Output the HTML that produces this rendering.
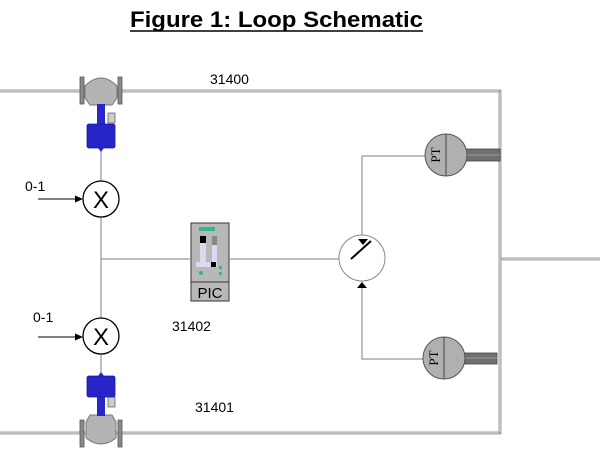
<!DOCTYPE html>
<html><head><meta charset="utf-8"><style>
html,body{margin:0;padding:0;background:#fff;}
svg{display:block;}
text{font-family:"Liberation Sans",Arial,sans-serif;}
</style></head><body>
<svg width="600" height="450" viewBox="0 0 600 450" xmlns="http://www.w3.org/2000/svg">
<text x="130" y="27" font-size="22" font-weight="bold" textLength="293" lengthAdjust="spacingAndGlyphs" fill="#000">Figure 1: Loop Schematic</text>
<line x1="130" y1="31" x2="423" y2="31" stroke="#000" stroke-width="1.5"/>

<g fill="none" stroke="#a0a0a0" stroke-width="3">
<line x1="0" y1="91" x2="501" y2="91"/>
<line x1="0" y1="433" x2="501" y2="433"/>
<line x1="500" y1="90" x2="500" y2="434"/>
<line x1="500" y1="259" x2="600" y2="259"/>
</g>
<g fill="none" stroke="#ddd" stroke-width="1">
<line x1="0" y1="91" x2="499" y2="91"/>
<line x1="0" y1="433" x2="499" y2="433"/>
<line x1="500" y1="92" x2="500" y2="432"/>
<line x1="502" y1="259" x2="600" y2="259"/>
</g>

<g stroke="#808080" stroke-width="1" fill="none">
<line x1="101" y1="148" x2="101" y2="181"/>
<line x1="101" y1="217" x2="101" y2="318"/>
<line x1="101" y1="354" x2="101" y2="375"/>
<line x1="101" y1="259" x2="190" y2="259"/>
<line x1="230" y1="259" x2="351" y2="259"/>
<polyline points="362,235 362,156 425,156"/>
<polyline points="362,282 362,359 423,359"/>
</g>

<g>
<path d="M85,86 Q101,70 117,86 L117,98 L112,105 L90,105 L85,98 Z" fill="#b4b4b4" stroke="#777" stroke-width="1"/>
<rect x="80" y="77" width="4" height="27" fill="#8a8a8a" stroke="#555" stroke-width="0.8"/>
<rect x="118" y="77" width="4" height="27" fill="#8a8a8a" stroke="#555" stroke-width="0.8"/>
<rect x="97" y="104" width="8" height="22" fill="#2828c8"/>
<rect x="108" y="113" width="7" height="10" fill="#ccc" stroke="#555" stroke-width="0.7"/>
<rect x="87" y="124" width="28" height="24" rx="2" fill="#2626c8" stroke="#1a1a90" stroke-width="0.8"/>
<path d="M98,148 L104,148 L101,152 Z" fill="#2626c8"/>
</g>
<g>
<path d="M86,422 L90,415 L112,415 L116,422 L116,438 Q101,450 86,438 Z" fill="#b4b4b4" stroke="#777" stroke-width="1"/>
<rect x="80" y="420" width="4" height="27" fill="#8a8a8a" stroke="#555" stroke-width="0.8"/>
<rect x="118" y="420" width="4" height="27" fill="#8a8a8a" stroke="#555" stroke-width="0.8"/>
<rect x="97" y="396" width="8" height="20" fill="#2828c8"/>
<rect x="108" y="397" width="7" height="10" fill="#ccc" stroke="#555" stroke-width="0.7"/>
<rect x="87" y="376" width="28" height="21" rx="2" fill="#2626c8" stroke="#1a1a90" stroke-width="0.8"/>
<path d="M98,376 L104,376 L101,372 Z" fill="#2626c8"/>
</g>

<g fill="#fff" stroke="#000" stroke-width="1.3">
<circle cx="101" cy="199" r="18"/>
<circle cx="101" cy="336" r="18"/>
</g>
<text x="101" y="208" font-size="24" text-anchor="middle">X</text>
<text x="101" y="345" font-size="24" text-anchor="middle">X</text>
<g stroke="#000" stroke-width="1">
<line x1="38" y1="199" x2="78" y2="199"/>
<line x1="38" y1="337" x2="78" y2="337"/>
</g>
<path d="M83,199 L75,195.5 L75,202.5 Z" fill="#000"/>
<path d="M83,337 L75,333.5 L75,340.5 Z" fill="#000"/>
<text x="25" y="191" font-size="14">0-1</text>
<text x="33" y="322" font-size="14">0-1</text>

<rect x="191" y="223" width="38" height="78" fill="#b8b8b8" stroke="#333" stroke-width="1"/>
<line x1="191" y1="282" x2="229" y2="282" stroke="#333"/>
<rect x="199" y="227" width="16" height="4" fill="#2fb88a"/>
<rect x="200" y="236" width="6" height="26" fill="#ddd8f0"/>
<rect x="200" y="236" width="6" height="7" fill="#000"/>
<rect x="212" y="236" width="5" height="26" fill="#ddd8f0"/>
<rect x="212" y="236" width="5" height="9" fill="#888"/>
<rect x="196" y="262" width="21" height="5" fill="#ddd8f0"/>
<rect x="211" y="262" width="5" height="5" fill="#000"/>
<circle cx="201" cy="273" r="2" fill="#2fb88a"/>
<rect x="219" y="266" width="3" height="3" fill="#2fb88a"/>
<rect x="219" y="272" width="3" height="3" fill="#2fb88a"/>
<text x="210" y="298" font-size="15" text-anchor="middle">PIC</text>

<circle cx="362" cy="258" r="23" fill="#fff" stroke="#888" stroke-width="1"/>
<line x1="351" y1="259" x2="371" y2="241" stroke="#000" stroke-width="2"/>
<path d="M358,239 L368,239 L363,245 Z" fill="#000"/>
<path d="M357,288 L367,288 L362,282 Z" fill="#000"/>

<rect x="466" y="149" width="34" height="12" fill="#707070" stroke="#444" stroke-width="0.8"/>
<line x1="466" y1="155" x2="500" y2="155" stroke="#999" stroke-width="1"/>
<circle cx="446" cy="155" r="21" fill="#b0b0b0" stroke="#555" stroke-width="1"/>
<line x1="446" y1="134" x2="446" y2="176" stroke="#444"/>
<text transform="translate(440,155) rotate(-90)" font-size="13" text-anchor="middle" style="font-family:'Liberation Serif',serif">PT</text>
<rect x="465" y="353" width="32" height="11" fill="#707070" stroke="#444" stroke-width="0.8"/>
<line x1="465" y1="358" x2="497" y2="358" stroke="#999" stroke-width="1"/>
<circle cx="444" cy="358" r="21" fill="#b0b0b0" stroke="#555" stroke-width="1"/>
<line x1="444" y1="337" x2="444" y2="379" stroke="#444"/>
<text transform="translate(438,358) rotate(-90)" font-size="13" text-anchor="middle" style="font-family:'Liberation Serif',serif">PT</text>

<text x="210" y="84" font-size="14">31400</text>
<text x="172" y="331" font-size="14">31402</text>
<text x="195" y="412" font-size="14">31401</text>
</svg>
</body></html>
